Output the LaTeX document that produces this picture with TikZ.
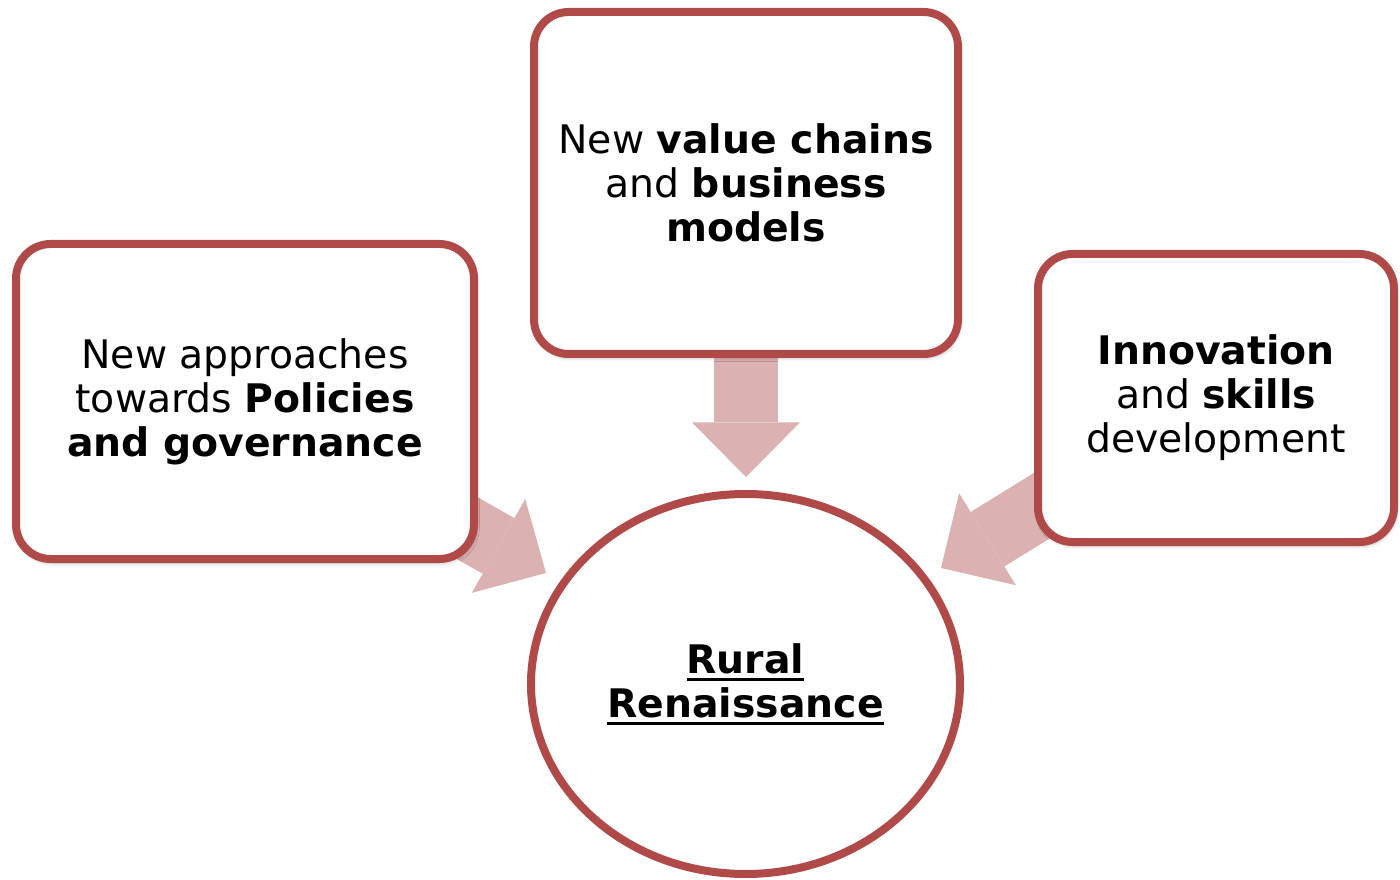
\documentclass[tikz,border=0pt]{standalone}
\usepackage{fontspec}
\setmainfont{DejaVu Sans}
\newcommand{\myul}[1]{\setbox0\hbox{#1}\rlap{\vrule height -3.3pt depth 5.5pt width \wd0}\box0}
\usetikzlibrary{arrows.meta,shapes.geometric,backgrounds,shadows.blur}
\definecolor{boxred}{RGB}{176,74,72}
\definecolor{arrowpink}{RGB}{219,177,177}
\tikzset{
  boxnode/.style={draw=boxred, line width=6pt, fill=white, rounded corners=26pt,
    align=center, inner sep=0pt, font=\fontsize{29.5}{33}\selectfont,
    blur shadow={shadow xshift=1pt, shadow yshift=-2.5pt, shadow blur radius=3pt, shadow opacity=35}},
  circnode/.style={ellipse, draw=boxred, line width=6pt, fill=white,
    align=center, inner sep=0pt, font=\fontsize{29.5}{33}\selectfont},
  bigarrow/.style={draw=arrowpink, line width=48pt,
    -{Triangle[width=81pt,length=41pt,line width=0pt 0]}}
}
\begin{document}
\begin{tikzpicture}[x=0.75pt,y=-0.75pt]
\useasboundingbox (0,0) rectangle (1400,880);
\node[boxnode, minimum width=343.5pt, minimum height=236.25pt] (policy) at (245,401.5)
  {New approaches\\towards \textbf{Policies}\\\textbf{and governance}};
\node[boxnode, minimum width=318pt, minimum height=256.5pt] (value) at (746,183)
  {New \textbf{value chains}\\and \textbf{business}\\\textbf{models}};
\node[boxnode, minimum width=267pt, minimum height=216pt] (innov) at (1216,398)
  {\textbf{Innovation}\\and \textbf{skills}\\development};
\node[circnode, minimum width=321.75pt, minimum height=285pt] (rural) at (745.5,684)
  {\myul{\textbf{Rural}}\\\myul{\textbf{Renaissance}}};
\coordinate (ltip) at (546,573);
\coordinate (ttip) at (746,477);
\coordinate (rtip) at (941,568);
\begin{scope}[on background layer]
  \draw[bigarrow] (policy.center) -- (ltip);
  \draw[bigarrow] (value.center) -- (ttip);
  \draw[bigarrow] (innov.center) -- (rtip);
\end{scope}
\end{tikzpicture}
\end{document}
